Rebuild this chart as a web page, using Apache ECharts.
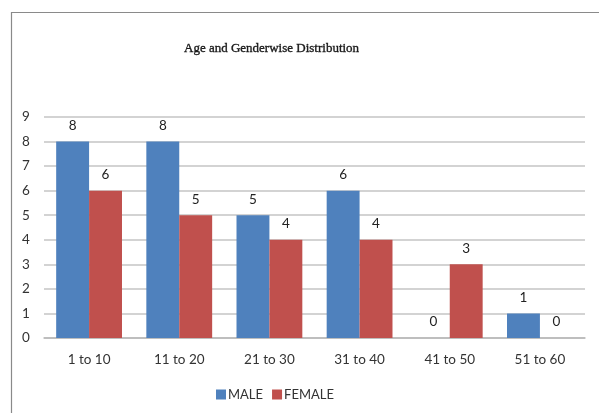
<!DOCTYPE html>
<html>
<head>
<meta charset="utf-8">
<script src="https://cdn.jsdelivr.net/npm/echarts@6/dist/echarts.min.js"></script>
<style>
  html, body { margin: 0; padding: 0; background: #fff; }
  #chart { width: 599px; height: 413px; }
</style>
</head>
<body>
<div id="chart"></div>
<script>
// Age groups and head counts by gender
const ageGroups = ['1 to 10', '11 to 20', '21 to 30', '31 to 40', '41 to 50', '51 to 60'];
const maleCounts = [8, 8, 5, 6, 0, 1];
const femaleCounts = [6, 5, 4, 4, 3, 0];
const yTicks = { min: 0, max: 9, interval: 1 };

const chart = echarts.init(document.getElementById('chart'), null, { renderer: 'canvas' });

const labelStyle = {
  show: true,
  position: 'top',
  distance: 9,
  fontFamily: 'Lato',
  fontSize: 13.5,
  color: '#222'
};

chart.setOption({
  animation: false,
  backgroundColor: '#fff',
  graphic: [{
    type: 'rect',
    left: 9, top: 10,
    shape: { width: 620, height: 430 },
    style: { fill: 'none', stroke: '#8a8a8a', lineWidth: 1.2 },
    silent: true
  }],
  title: {
    text: 'Age and Genderwise Distribution',
    left: 179,
    top: 37,
    textStyle: {
      fontFamily: 'Liberation Serif',
      fontSize: 13,
      fontWeight: 'normal',
      color: '#1a1a1a',
      textBorderColor: '#1a1a1a',
      textBorderWidth: 0.35
    }
  },
  legend: {
    bottom: 7,
    left: 211,
    itemWidth: 10,
    itemHeight: 10,
    itemGap: 9,
    icon: 'rect',
    textStyle: { fontFamily: 'Lato', fontSize: 13, color: '#333', padding: [0, 0, 0, -3] },
    data: ['MALE', 'FEMALE']
  },
  grid: { left: 44, right: 14, top: 117, bottom: 75, containLabel: false },
  xAxis: {
    type: 'category',
    data: ageGroups,
    axisLine: { show: true, lineStyle: { color: '#b8b8b8', width: 1.5 } },
    axisTick: { show: false },
    axisLabel: { fontFamily: 'Lato', fontSize: 13.5, color: '#333', margin: 15 }
  },
  yAxis: {
    type: 'value',
    min: yTicks.min,
    max: yTicks.max,
    interval: yTicks.interval,
    axisLine: { show: false },
    axisTick: { show: false },
    axisLabel: { fontFamily: 'Lato', fontSize: 13.5, color: '#333', margin: 22, align: 'left' },
    splitLine: { lineStyle: { color: '#c4c4c4', width: 1.5 } }
  },
  series: [
    {
      name: 'MALE',
      type: 'bar',
      data: maleCounts,
      barGap: '0%',
      barCategoryGap: '27%',
      itemStyle: { color: '#4F81BD' },
      label: labelStyle
    },
    {
      name: 'FEMALE',
      type: 'bar',
      data: femaleCounts,
      itemStyle: { color: '#C0504D' },
      label: labelStyle
    }
  ]
});
</script>
</body>
</html>
